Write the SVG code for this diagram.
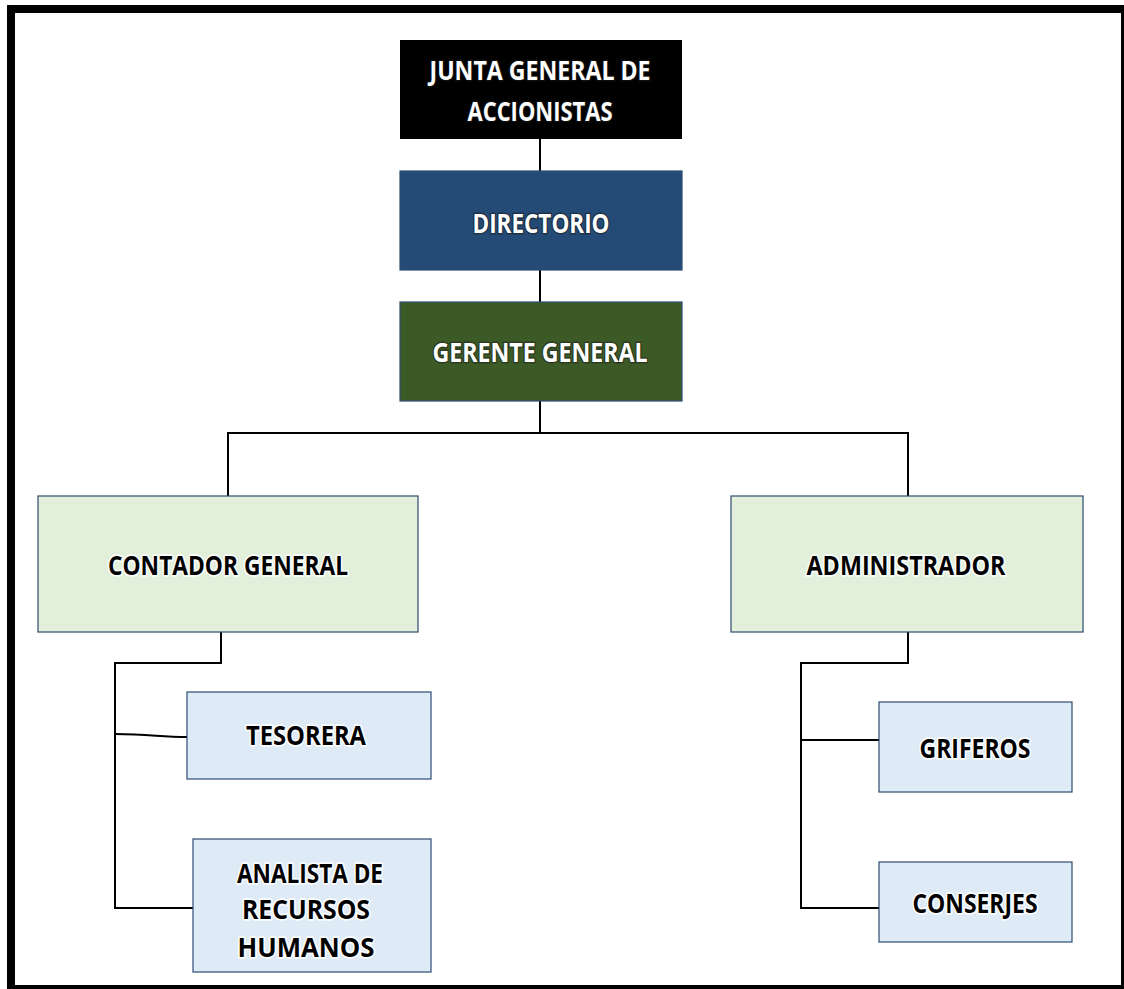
<svg xmlns="http://www.w3.org/2000/svg" width="1124" height="989" viewBox="0 0 1124 989">
<style>
.box{stroke:#2E4C73;stroke-width:1.2}
.t{font-family:"Open Sans","Liberation Sans",sans-serif;font-weight:bold;font-size:26px;text-anchor:middle}
.w{fill:#ffffff;stroke:#1a1a1a;stroke-opacity:0.5;stroke-width:3;paint-order:stroke;stroke-linejoin:round}
.k{fill:#000000;stroke:#ffffff;stroke-opacity:0.9;stroke-width:3.5;paint-order:stroke;stroke-linejoin:round}
.c{fill:none;stroke:#000000;stroke-width:2}
</style>
<rect x="0" y="0" width="1124" height="989" fill="#ffffff"/>
<rect x="11" y="9" width="1114" height="980" fill="none" stroke="#000000" stroke-width="8"/>
<g id="connectors">
<line class="c" x1="540" y1="139" x2="540" y2="171"/>
<line class="c" x1="540" y1="270" x2="540" y2="302"/>
<line class="c" x1="540" y1="401" x2="540" y2="433"/>
<polyline class="c" points="228,496 228,433 908,433 908,496"/>
<polyline class="c" points="221,632 221,663 115,663 115,908 193,908"/>
<path class="c" d="M115,734 C150,734 160,737 187,737"/>
<polyline class="c" points="908,632 908,663 801,663 801,908 879,908"/>
<line class="c" x1="801" y1="740" x2="879" y2="740"/>
</g>
<g id="junta">
<rect x="400" y="40" width="282" height="99" fill="#000000"/>
<text class="t w" x="540" y="80" textLength="221" lengthAdjust="spacingAndGlyphs">JUNTA GENERAL DE</text>
<text class="t w" x="540" y="121" textLength="145" lengthAdjust="spacingAndGlyphs">ACCIONISTAS</text>
</g>
<g id="directorio">
<rect class="box" x="400" y="171" width="282" height="99" fill="#234B75"/>
<text class="t w" x="541" y="233" textLength="137" lengthAdjust="spacingAndGlyphs">DIRECTORIO</text>
</g>
<g id="gerente">
<rect class="box" x="400" y="302" width="282" height="99" fill="#3C5A26" stroke="#3E6A95"/>
<text class="t w" x="540" y="362" textLength="215" lengthAdjust="spacingAndGlyphs">GERENTE GENERAL</text>
</g>
<g id="contador">
<rect class="box" x="38" y="496" width="380" height="136" fill="#E2EFDA"/>
<text class="t k" x="228" y="575" textLength="240" lengthAdjust="spacingAndGlyphs">CONTADOR GENERAL</text>
</g>
<g id="administrador">
<rect class="box" x="731" y="496" width="352" height="136" fill="#E2EFDA"/>
<text class="t k" x="906" y="575" textLength="199" lengthAdjust="spacingAndGlyphs">ADMINISTRADOR</text>
</g>
<g id="tesorera">
<rect class="box" x="187" y="692" width="244" height="87" fill="#DEEAF6"/>
<text class="t k" x="306" y="745" textLength="120" lengthAdjust="spacingAndGlyphs">TESORERA</text>
</g>
<g id="analista">
<rect class="box" x="193" y="839" width="238" height="133" fill="#DEEAF6"/>
<text class="t k" x="310" y="883" textLength="146" lengthAdjust="spacingAndGlyphs">ANALISTA DE</text>
<text class="t k" x="306" y="919" textLength="128" lengthAdjust="spacingAndGlyphs">RECURSOS</text>
<text class="t k" x="306" y="957" textLength="137" lengthAdjust="spacingAndGlyphs">HUMANOS</text>
</g>
<g id="griferos">
<rect class="box" x="879" y="702" width="193" height="90" fill="#DEEAF6"/>
<text class="t k" x="975" y="758" textLength="111" lengthAdjust="spacingAndGlyphs">GRIFEROS</text>
</g>
<g id="conserjes">
<rect class="box" x="879" y="862" width="193" height="80" fill="#DEEAF6"/>
<text class="t k" x="975" y="913" textLength="125" lengthAdjust="spacingAndGlyphs">CONSERJES</text>
</g>
</svg>
